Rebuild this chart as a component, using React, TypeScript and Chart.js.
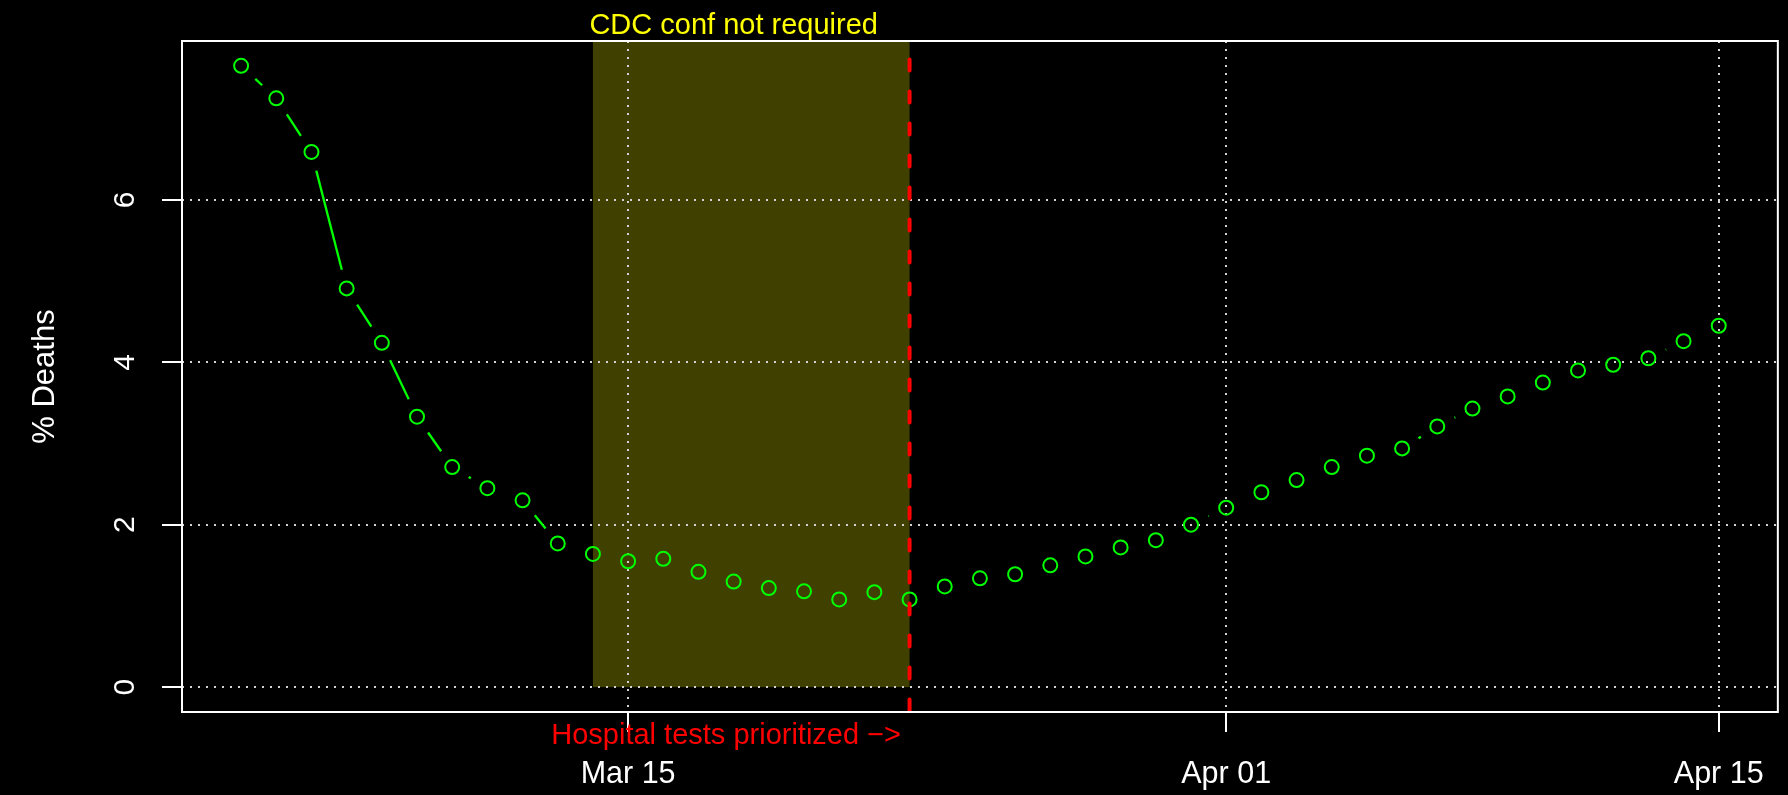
import React, { useEffect, useRef } from "react";
import { Chart, registerables } from "chart.js";

Chart.register(...registerables);

// ---- data ----
const dates: string[] = [
  "2020-03-04", "2020-03-05", "2020-03-06", "2020-03-07", "2020-03-08", "2020-03-09",
  "2020-03-10", "2020-03-11", "2020-03-12", "2020-03-13", "2020-03-14", "2020-03-15",
  "2020-03-16", "2020-03-17", "2020-03-18", "2020-03-19", "2020-03-20", "2020-03-21",
  "2020-03-22", "2020-03-23", "2020-03-24", "2020-03-25", "2020-03-26", "2020-03-27",
  "2020-03-28", "2020-03-29", "2020-03-30", "2020-03-31", "2020-04-01", "2020-04-02",
  "2020-04-03", "2020-04-04", "2020-04-05", "2020-04-06", "2020-04-07", "2020-04-08",
  "2020-04-09", "2020-04-10", "2020-04-11", "2020-04-12", "2020-04-13", "2020-04-14",
  "2020-04-15",
];

const deathPct: number[] = [
  7.65, 7.25, 6.59, 4.91, 4.24, 3.33,
  2.71, 2.45, 2.30, 1.77, 1.64, 1.55,
  1.58, 1.42, 1.30, 1.22, 1.18, 1.08,
  1.17, 1.08, 1.24, 1.34, 1.39, 1.50,
  1.61, 1.72, 1.81, 2.00, 2.21, 2.40,
  2.55, 2.71, 2.85, 2.94, 3.21, 3.43,
  3.58, 3.75, 3.90, 3.97, 4.05, 4.26,
  4.45,
];

const xTickDates: string[] = ["2020-03-15", "2020-04-01", "2020-04-15"];
const xTickLabels: string[] = ["Mar 15", "Apr 01", "Apr 15"];
const yTicks: number[] = [0, 2, 4, 6];

const shadeStart = "2020-03-14";
const shadeEnd = "2020-03-23";
const markerDate = "2020-03-23";
const topLabelDate = "2020-03-18";
const topLabel = "CDC conf not required";
const bottomLabel = "Hospital tests prioritized \u2212>";
const yTitle = "% Deaths";

// ---- helpers ----
const EPOCH = Date.UTC(2020, 2, 1);
function dayNum(s: string): number {
  const [y, m, d] = s.split("-").map(Number);
  return (Date.UTC(y, m - 1, d) - EPOCH) / 86400000;
}

const FONT = "'Liberation Sans', Arial, Helvetica, sans-serif";
const GREEN = "#00ff00";

export default function App() {
  const ref = useRef<HTMLCanvasElement | null>(null);

  useEffect(() => {
    const canvas = ref.current;
    if (!canvas) return;

    const xs = dates.map(dayNum);
    const xMinD = Math.min(...xs);
    const xMaxD = Math.max(...xs);
    const xPad = (xMaxD - xMinD) * 0.04;
    const yMaxD = Math.max(...deathPct);
    const yPad = yMaxD * 0.04;

    const points = xs.map((x, i) => ({ x, y: deathPct[i] }));

    const decor = {
      id: "rDecor",
      beforeDraw(chart: any) {
        const { ctx, chartArea, scales } = chart;
        const xS = scales.x;
        const yS = scales.y;
        ctx.save();
        ctx.fillStyle = "#000000";
        ctx.fillRect(0, 0, chart.width, chart.height);
        // shaded period
        ctx.beginPath();
        ctx.rect(chartArea.left, chartArea.top, chartArea.right - chartArea.left, chartArea.bottom - chartArea.top);
        ctx.clip();
        const x1 = xS.getPixelForValue(dayNum(shadeStart));
        const x2 = xS.getPixelForValue(dayNum(shadeEnd));
        const y0 = yS.getPixelForValue(0);
        ctx.fillStyle = "rgba(255,255,0,0.25)";
        ctx.fillRect(x1, chartArea.top, x2 - x1, y0 - chartArea.top);
        ctx.restore();
      },
      afterDatasetsDraw(chart: any) {
        const { ctx, chartArea, scales } = chart;
        const xS = scales.x;
        const yS = scales.y;
        const meta = chart.getDatasetMeta(0);
        const pts = meta.data;
        const gap = 19.3;

        ctx.save();
        // connecting segments with gaps (R type = "b")
        ctx.strokeStyle = GREEN;
        ctx.lineWidth = 2.3;
        ctx.lineCap = "butt";
        for (let i = 0; i < pts.length - 1; i++) {
          const a = pts[i];
          const b = pts[i + 1];
          const dx = b.x - a.x;
          const dy = b.y - a.y;
          const d = Math.hypot(dx, dy);
          if (d <= 2 * gap) continue;
          const ux = dx / d;
          const uy = dy / d;
          ctx.beginPath();
          ctx.moveTo(a.x + ux * gap, a.y + uy * gap);
          ctx.lineTo(b.x - ux * gap, b.y - uy * gap);
          ctx.stroke();
        }

        // red dashed marker line
        ctx.save();
        ctx.beginPath();
        ctx.rect(chartArea.left, chartArea.top, chartArea.right - chartArea.left, chartArea.bottom - chartArea.top);
        ctx.clip();
        const mx = xS.getPixelForValue(dayNum(markerDate));
        ctx.strokeStyle = "#ff0000";
        ctx.lineWidth = 4;
        ctx.lineCap = "round";
        ctx.setLineDash([11, 21]);
        ctx.lineDashOffset = 13.5;
        ctx.beginPath();
        ctx.moveTo(mx, chartArea.top);
        ctx.lineTo(mx, chartArea.bottom + 4);
        ctx.stroke();
        ctx.restore();

        // plot box
        ctx.setLineDash([]);
        ctx.strokeStyle = "#ffffff";
        ctx.lineWidth = 2;
        ctx.strokeRect(chartArea.left, chartArea.top, chartArea.right - chartArea.left, chartArea.bottom - chartArea.top);

        // y tick labels (rotated like R las = 0)
        ctx.fillStyle = "#ffffff";
        ctx.font = `30px ${FONT}`;
        ctx.textAlign = "center";
        ctx.textBaseline = "alphabetic";
        for (const v of yTicks) {
          const py = yS.getPixelForValue(v);
          ctx.save();
          ctx.translate(chartArea.left - 48, py);
          ctx.rotate(-Math.PI / 2);
          ctx.fillText(String(v), 0, 0);
          ctx.restore();
        }

        // y title
        ctx.font = `31px ${FONT}`;
        ctx.save();
        ctx.translate(chartArea.left - 128, (chartArea.top + chartArea.bottom) / 2);
        ctx.rotate(-Math.PI / 2);
        ctx.fillText(yTitle, 0, 0);
        ctx.restore();

        // annotations
        ctx.font = `29px ${FONT}`;
        ctx.fillStyle = "#ffff00";
        ctx.textAlign = "center";
        ctx.fillText(topLabel, xS.getPixelForValue(dayNum(topLabelDate)), chartArea.top - 7);

        ctx.fillStyle = "#ff0000";
        ctx.textAlign = "right";
        ctx.fillText(bottomLabel, mx - 8.5, chartArea.bottom + 31.5);

        ctx.restore();
      },
    };

    const gridCommon = {
      display: true,
      color: "#d3d3d3",
      lineWidth: 2,
      drawOnChartArea: true,
      drawTicks: true,
      tickLength: 20,
      tickColor: "#ffffff",
      tickWidth: 2,
      tickBorderDash: [],
    };

    const chart = new Chart(canvas, {
      type: "line",
      data: {
        datasets: [
          {
            label: yTitle,
            data: points,
            showLine: false,
            pointRadius: 7,
            pointHoverRadius: 7,
            pointBorderWidth: 2,
            pointBorderColor: GREEN,
            pointBackgroundColor: "rgba(0,0,0,0)",
            borderColor: GREEN,
          },
        ],
      },
      options: {
        responsive: false,
        animation: false,
        devicePixelRatio: 1,
        events: [],
        layout: { padding: { left: 0, top: 41, right: 7, bottom: 0 } },
        plugins: {
          legend: { display: false },
          tooltip: { enabled: false },
          title: { display: false },
        },
        scales: {
          x: {
            type: "linear",
            min: xMinD - xPad,
            max: xMaxD + xPad,
            afterBuildTicks: (scale: any) => {
              scale.ticks = xTickDates.map((d) => ({ value: dayNum(d) }));
            },
            afterFit: (scale: any) => {
              scale.height = 83;
            },
            ticks: {
              autoSkip: false,
              maxRotation: 0,
              minRotation: 0,
              padding: 24,
              color: "#ffffff",
              font: { family: FONT, size: 30.5 },
              callback: (_v: any, i: number) => xTickLabels[i],
            },
            grid: gridCommon,
            border: { display: false, dash: [2, 6] },
          },
          y: {
            type: "linear",
            min: -yPad,
            max: yMaxD + yPad,
            afterBuildTicks: (scale: any) => {
              scale.ticks = yTicks.map((v) => ({ value: v }));
            },
            afterFit: (scale: any) => {
              scale.width = 182;
            },
            ticks: { display: false },
            grid: gridCommon,
            border: { display: false, dash: [2, 6] },
          },
        },
      },
      plugins: [decor],
    } as any);

    return () => chart.destroy();
  }, []);

  return (
    <div style={{ position: "fixed", left: 0, top: 0, width: 1788, height: 795, background: "#000" }}>
      <canvas ref={ref} width={1788} height={795} style={{ display: "block", width: 1788, height: 795 }} />
    </div>
  );
}
